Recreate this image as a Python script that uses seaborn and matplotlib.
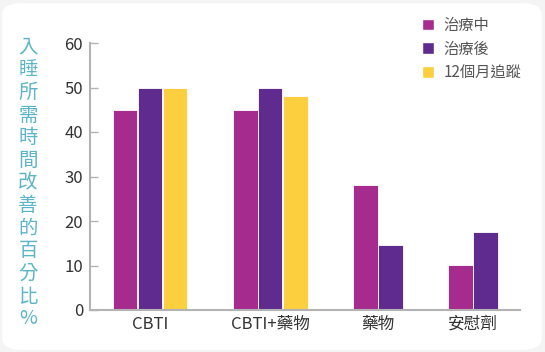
import pandas as pd
import seaborn as sns
import matplotlib.pyplot as plt
from matplotlib.patches import FancyBboxPatch, Rectangle

# data
categories = ["CBTI", "CBTI+藥物", "藥物", "安慰劑"]
series = ["治療中", "治療後", "12個月追蹤"]
during = [45, 45, 28, 10.2]
after = [50, 50, 14.5, 17.5]
followup = [50, 48, None, None]
colors = ["#A62B8E", "#5F2B8F", "#FBCF3E"]
y_label = "入睡所需時間改善的百分比%"

# each group is as wide as its bars plus a margin of 0.9 bar on each side
values = [during, after, followup]
rows = []
bounds = [0.0]
centers = []
for ci, cat in enumerate(categories):
    vals = [(s, v[ci]) for s, v in zip(series, values) if v[ci] is not None]
    start = bounds[-1]
    for bi, (s, v) in enumerate(vals):
        rows.append({"pos": round(start + 0.9 + bi + 0.5, 3), "value": v, "series": s})
    width = len(vals) + 1.8
    centers.append(start + width / 2)
    bounds.append(round(start + width, 3))
df = pd.DataFrame(rows)

sns.set_style("white")
plt.rcParams["font.family"] = ["Noto Sans CJK TC", "DejaVu Sans"]

fig = plt.figure(figsize=(5.45, 3.52), dpi=100, facecolor="#f4f4f4")
fig.patches.append(FancyBboxPatch((0.004, 0.006), 0.99, 0.985,
                                  boxstyle="round,pad=0,rounding_size=0.035",
                                  transform=fig.transFigure, facecolor="white",
                                  edgecolor="none", zorder=-1))
ax = fig.add_axes([90 / 545, 1 - 310 / 352, 430 / 545, 267 / 352])
ax.set_facecolor("none")

sns.barplot(data=df, x="pos", y="value", hue="series", hue_order=series,
            palette=colors, saturation=1, native_scale=True, dodge=False, width=1,
            edgecolor="white", linewidth=0.6, legend=False, ax=ax)

ax.set_xlim(bounds[0], bounds[-1])
ax.set_ylim(0, 60)
ax.set_yticks(range(0, 61, 10))
ax.set_xticks(centers)
ax.set_xticklabels(categories)
ax.set_xticks(bounds[1:], minor=True)
ax.tick_params(axis="x", which="major", length=0, pad=4, labelsize=12, labelcolor="#333333")
ax.tick_params(axis="x", which="minor", direction="in", length=6, width=1, color="#b3b3b3")
ax.tick_params(axis="y", direction="in", length=6, width=1, color="#b3b3b3",
               pad=5, labelsize=12, labelcolor="#333333", left=True)
ax.set_xlabel("")
ax.set_ylabel("")
for side in ["top", "right"]:
    ax.spines[side].set_visible(False)
for side in ["left", "bottom"]:
    ax.spines[side].set_color("#b3b3b3")
    ax.spines[side].set_linewidth(1.5)

fig.text(28 / 545, 1 - 183 / 352, "\n".join(y_label), color="#5BB5C6",
         fontsize=14, ha="center", va="center", linespacing=1.1)

handles = [Rectangle((0, 0), 1, 1, facecolor=c) for c in colors]
fig.legend(handles, series, loc="upper left", bbox_to_anchor=(408 / 545, 1 - 3 / 352),
           frameon=False, fontsize=11, handlelength=0.8, handleheight=0.8,
           handletextpad=0.6, labelspacing=0.45, labelcolor="#555555")

plt.savefig("out.png", dpi=100, facecolor=fig.get_facecolor())
